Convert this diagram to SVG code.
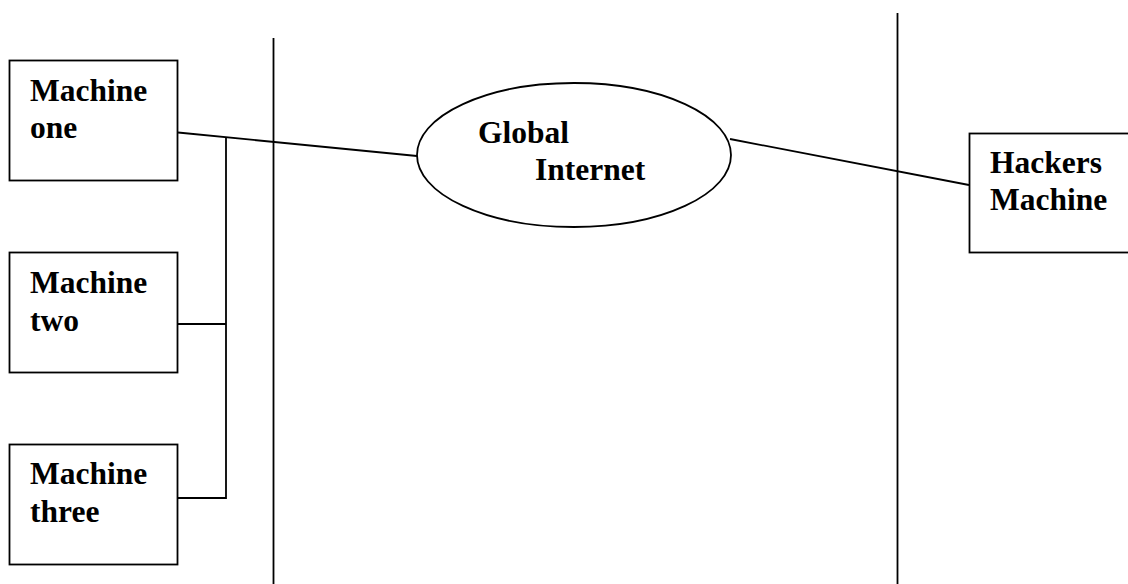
<svg xmlns="http://www.w3.org/2000/svg" width="1128" height="584" viewBox="0 0 1128 584">
<style>
.box{fill:#fff;stroke:#000;stroke-width:1.8}
.ln{stroke:#000;stroke-width:1.8;fill:none}
.t{font-family:"Liberation Serif","Times New Roman",serif;font-weight:bold;font-size:31.5px;fill:#000}
</style>
<rect width="1128" height="584" fill="#fff"/>
<g id="dividers">
<line class="ln" x1="273.5" y1="38" x2="273.5" y2="584"/>
<line class="ln" x1="897.5" y1="13" x2="897.5" y2="584"/>
</g>
<g id="connectors">
<line class="ln" x1="178" y1="132.5" x2="417" y2="156"/>
<polyline class="ln" points="226,137.5 226,498 178,498"/>
<line class="ln" x1="178" y1="324" x2="226" y2="324"/>
<line class="ln" x1="730" y1="139" x2="969" y2="185"/>
</g>
<g id="machine-one">
<rect class="box" x="9.5" y="60.5" width="168" height="120"/>
<text class="t" x="30" y="101">Machine</text>
<text class="t" x="30" y="138">one</text>
</g>
<g id="machine-two">
<rect class="box" x="9.5" y="252.5" width="168" height="120"/>
<text class="t" x="30" y="293">Machine</text>
<text class="t" x="30" y="331">two</text>
</g>
<g id="machine-three">
<rect class="box" x="9.5" y="444.5" width="168" height="120"/>
<text class="t" x="30" y="484">Machine</text>
<text class="t" x="30" y="522">three</text>
</g>
<g id="global-internet">
<ellipse class="box" cx="574" cy="155" rx="157" ry="72"/>
<text class="t" x="478" y="143">Global</text>
<text class="t" x="535" y="180">Internet</text>
</g>
<g id="hackers-machine">
<rect class="box" x="969.5" y="133.5" width="170" height="119"/>
<text class="t" x="990" y="173">Hackers</text>
<text class="t" x="990" y="210">Machine</text>
</g>
</svg>
